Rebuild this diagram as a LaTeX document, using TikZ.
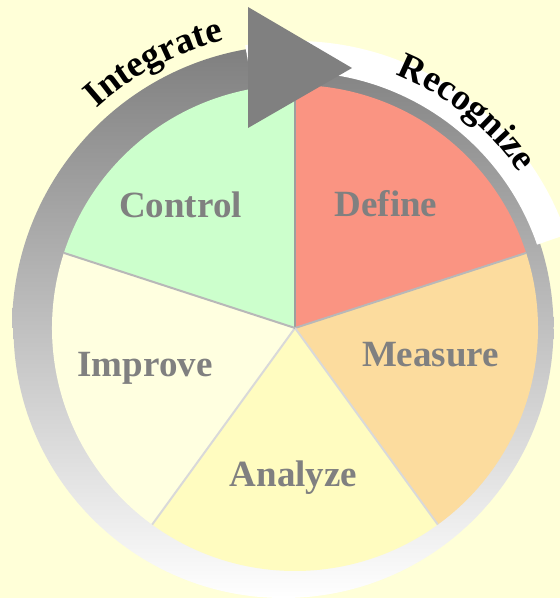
\documentclass[tikz,border=0pt]{standalone}
\usepackage{fontspec}
\setmainfont{Liberation Serif}
\usetikzlibrary{decorations.text}
\definecolor{bg}{RGB}{255,255,216}
\definecolor{define}{RGB}{250,148,130}
\definecolor{measure}{RGB}{252,220,158}
\definecolor{analyze}{RGB}{255,252,192}
\definecolor{improve}{RGB}{255,255,224}
\definecolor{control}{RGB}{204,255,204}
\definecolor{ringtop}{RGB}{116,116,116}
\definecolor{phasegray}{RGB}{128,128,128}
\tikzset{
  phase/.style={font=\fontsize{37}{37}\selectfont\bfseries,text=phasegray,anchor=base,inner sep=0pt},
  divider/.style={line width=2pt},
  ringshade/.style={top color=ringtop,bottom color=white},
}

\begin{document}
\begin{tikzpicture}[x=1pt,y=1pt]
        \fill[bg] (0,0) rectangle (560,598);
        \useasboundingbox (0,0) rectangle (560,598);
        \coordinate (O) at (295,270);
        \coordinate (B) at (283.5,270);

        \begin{scope}
          \clip (B) circle (270);
          \shade[ringshade] (0,0) rectangle (560,598);
        \end{scope}
        \begin{scope}
          \clip ([shift={(180:283)}]O) arc[start angle=180,end angle=97,radius=283]
            -- ([shift={(97:244)}]O) arc[start angle=97,end angle=180,radius=244] -- cycle;
          \shade[ringshade] (0,0) rectangle (560,598);
        \end{scope}

        \fill[white] ([shift={(100:287)}]O) arc[start angle=100,end angle=19,radius=287]
          -- ([shift={(19:256)}]O) arc[start angle=19,end angle=100,radius=256] -- cycle;

        \foreach \a/\c in {18/define,-54/measure,-126/analyze,162/improve,90/control}
          \fill[\c] (O) -- ++(\a:243) arc[start angle=\a,delta angle=72,radius=243] -- cycle;
        \foreach \a/\k in {90/38,18/28,-54/15,-126/15,162/28}
          \draw[divider,black!\k] (O) -- ++(\a:243);

        \path
        (180.5,380) node[phase](control){Control}
        (386,381) node[phase](define){Define}
        (430.5,231) node[phase](measure){Measure}
        (145,221) node[phase](improve){Improve}
        (293.5,111) node[phase](analyze){Analyze}
        ;

        \fill[phasegray] (248,591) -- (248,470) -- (352,530) -- cycle;

        \path[decorate,decoration={text along path,text align=center,
            text={|\fontsize{37}{37}\selectfont\bfseries|Integrate}}]
          ([shift={(145:296)}]O) arc[start angle=145,end angle=91,radius=296];
        \path[decorate,decoration={text along path,text align=center,
            text={|\fontsize{37}{37}\selectfont\bfseries|Recognize}}]
          ([shift={(78.5:273)}]O) arc[start angle=78.5,end angle=24.5,radius=273];
      \end{tikzpicture}
\end{document}
